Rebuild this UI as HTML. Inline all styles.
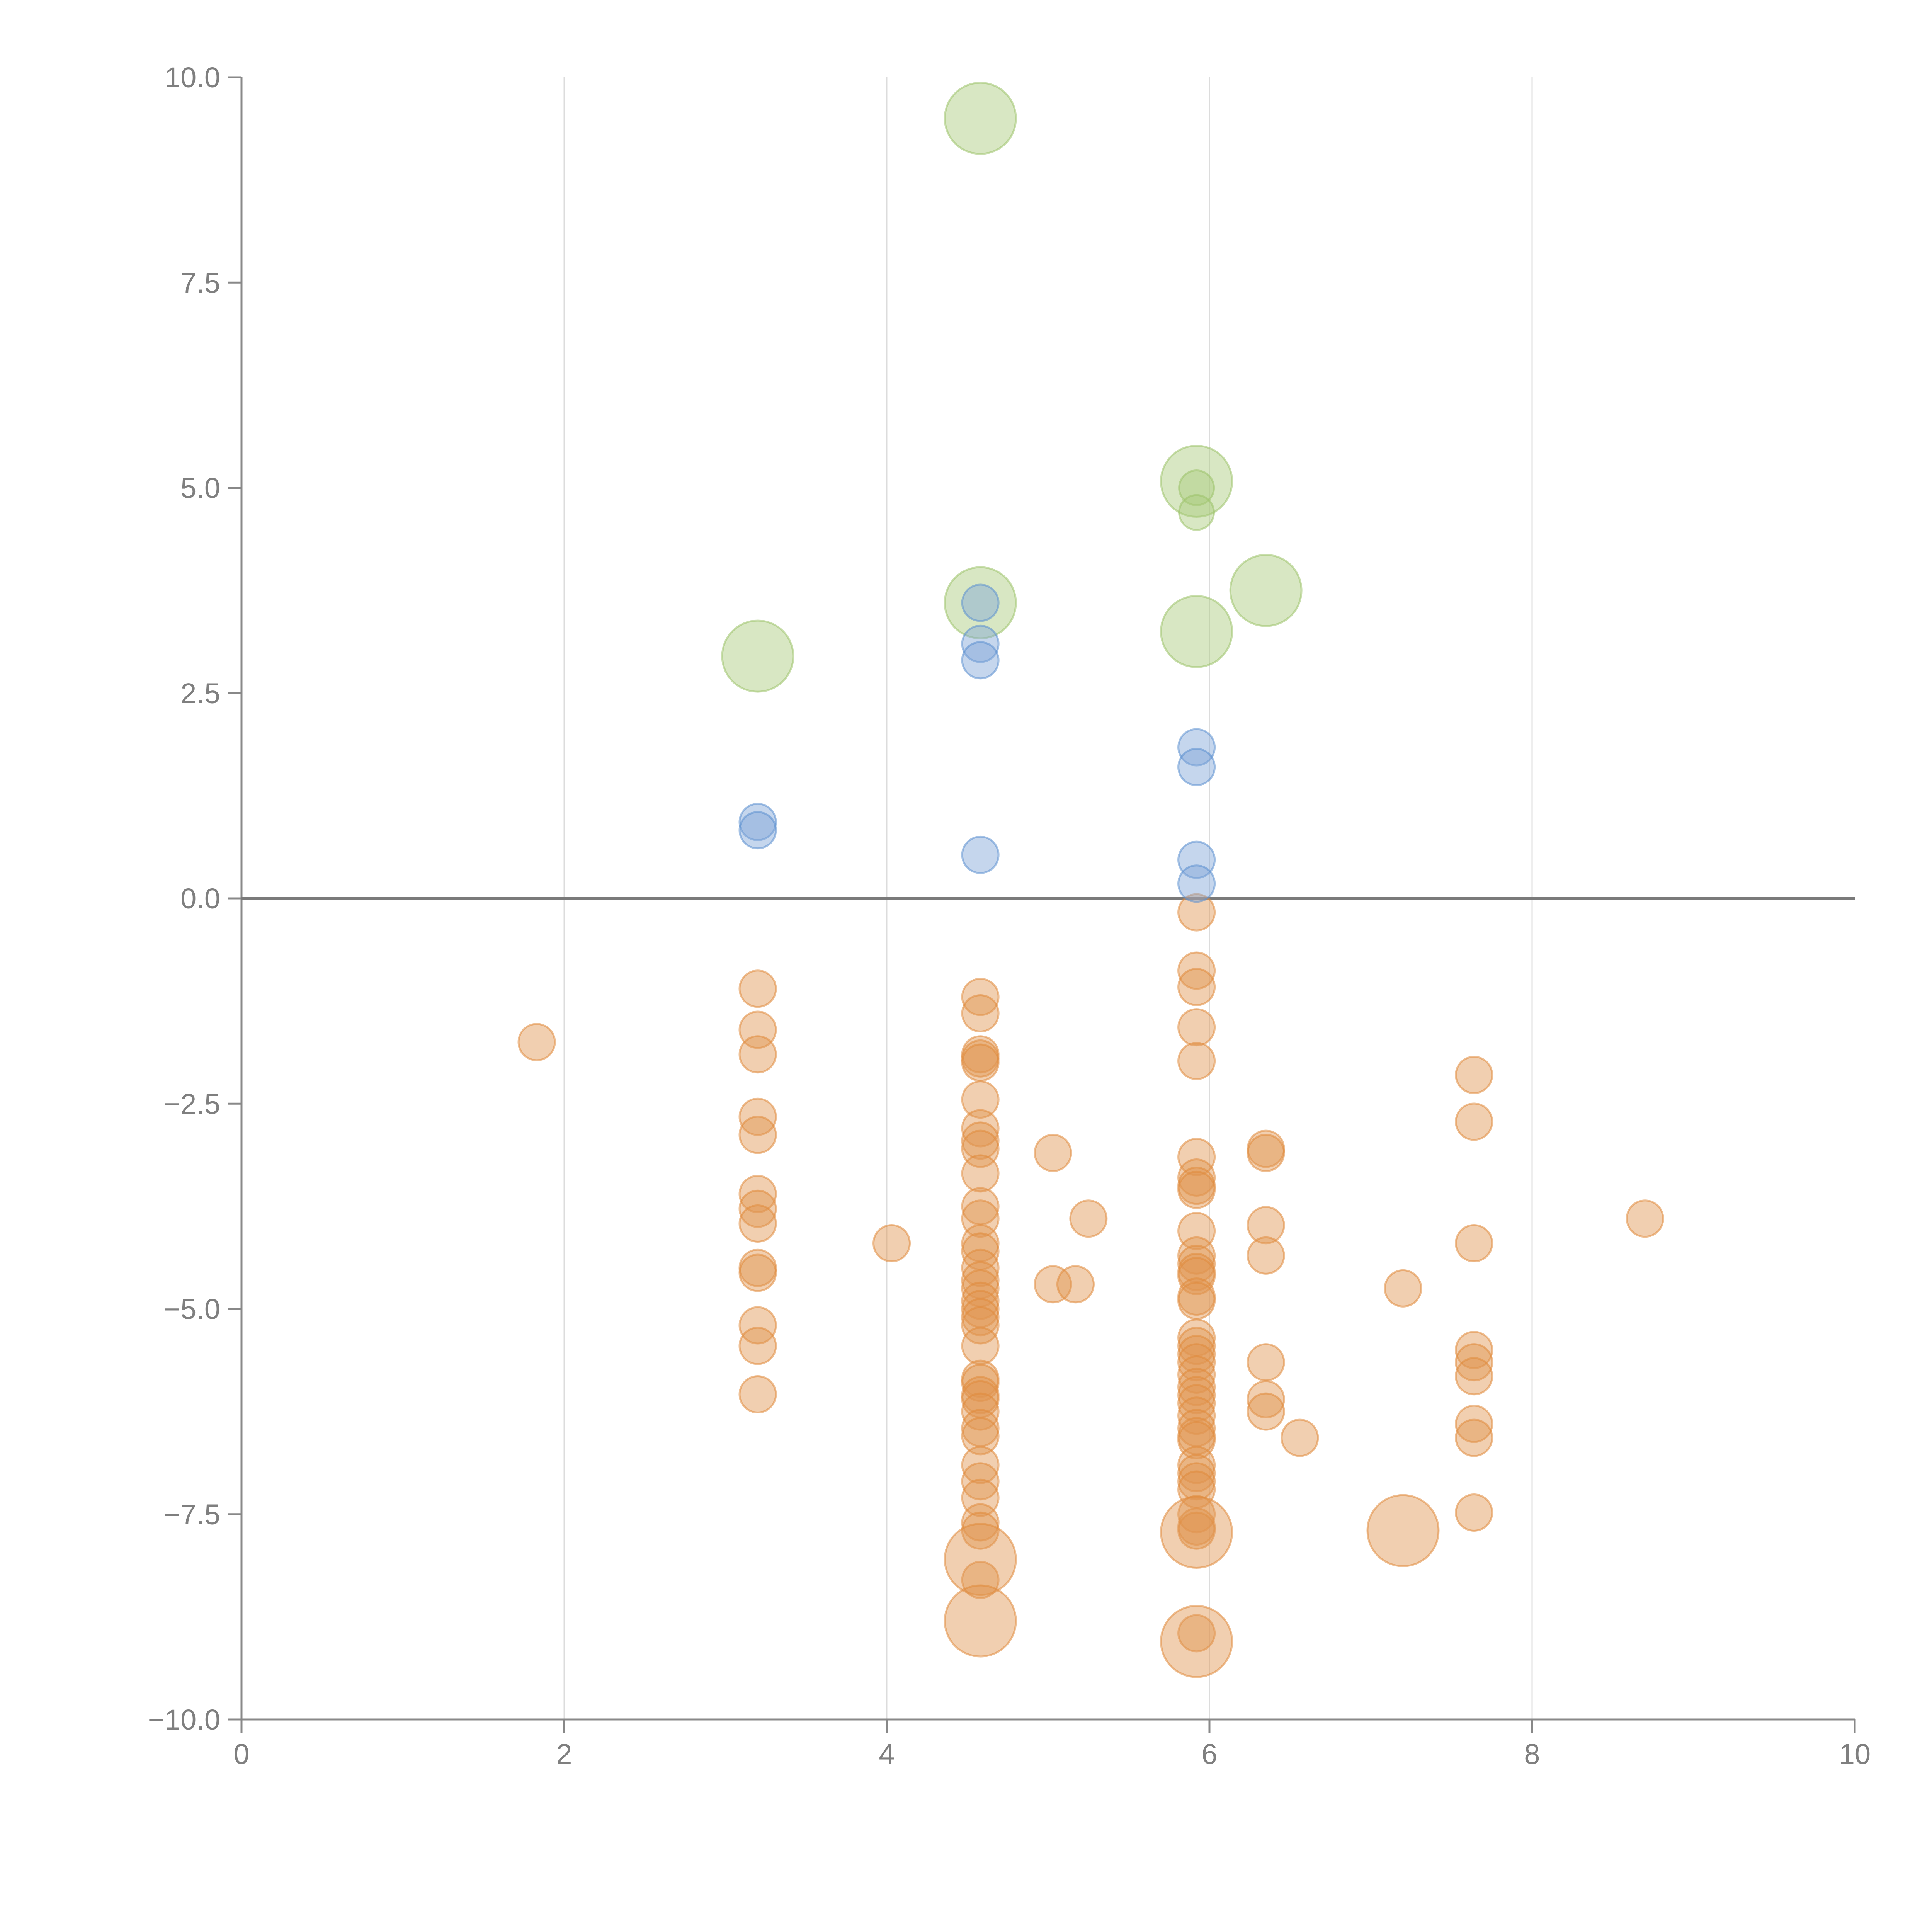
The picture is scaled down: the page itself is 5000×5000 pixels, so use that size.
<!DOCTYPE html>
<html><head><meta charset="utf-8"><style>
html,body{margin:0;padding:0;background:#fff;}
svg{display:block;}
text{font-family:"Liberation Sans",Arial,sans-serif;fill:#7f7f7f;}
</style></head><body>
<svg id="chart" width="5000" height="5000" viewBox="0 0 5000 5000" xmlns="http://www.w3.org/2000/svg">
<g id="grid"></g>
<g id="axes"></g>
<g id="marks"></g>
</svg>
<script>
const xTicks = [0, 2, 4, 6, 8, 10];
const yTicks = [-10, -7.5, -5, -2.5, 0, 2.5, 5, 7.5, 10];
const yTickLabels = ["\u221210.0","\u22127.5","\u22125.0","\u22122.5","0.0","2.5","5.0","7.5","10.0"];

const greenBigX = [4.58, 5.92, 6.35, 5.92, 4.58, 3.2];
const greenBigY = [9.5, 5.08, 3.75, 3.25, 3.6, 2.95];
const greenSmallX = [5.92, 5.92];
const greenSmallY = [5.0, 4.7];
const blueX = [4.58, 4.58, 4.58, 3.2, 3.2, 4.58, 5.92, 5.92, 5.92, 5.92];
const blueY = [3.6, 3.1, 2.9, 0.93, 0.83, 0.53, 1.84, 1.6, 0.47, 0.18];
const orangeX = [1.83,
 3.2,3.2,3.2,3.2,3.2,3.2,3.2,3.2,3.2,3.2,3.2,3.2,3.2,
 4.58,4.58,4.58,4.58,4.58,4.58,4.58,4.58,4.58,4.58,4.58,4.58,4.58,4.58,4.58,4.58,4.58,4.58,4.58,4.58,4.58,4.58,4.58,4.58,4.58,4.58,4.58,4.58,4.58,4.58,4.58,4.58,4.58,4.58,4.58,
 4.03,5.03,5.03,5.25,5.17,
 5.92,5.92,5.92,5.92,5.92,5.92,5.92,5.92,5.92,5.92,5.92,5.92,5.92,5.92,5.92,5.92,5.92,5.92,5.92,5.92,5.92,5.92,5.92,5.92,5.92,5.92,5.92,5.92,5.92,5.92,5.92,5.92,5.92,5.92,5.92,5.92,
 6.35,6.35,6.35,6.35,6.35,6.35,6.35,6.56,7.2,
 7.64,7.64,7.64,7.64,7.64,7.64,7.64,7.64,7.64,8.7];
const orangeY = [-1.75,
 -1.1,-1.6,-1.9,-2.66,-2.88,-3.6,-3.78,-3.96,-4.5,-4.56,-5.2,-5.45,-6.04,
 -1.2,-1.4,-1.9,-1.95,-2.0,-2.45,-2.8,-2.95,-3.05,-3.35,-3.75,-3.9,-4.2,-4.3,-4.5,-4.65,-4.75,-4.9,-5.0,-5.1,-5.2,-5.45,-5.85,-5.9,-6.05,-6.1,-6.25,-6.45,-6.55,-6.9,-7.1,-7.3,-7.6,-7.7,-8.3,
 -4.2,-3.1,-4.7,-3.9,-4.7,
 -0.17,-0.88,-1.08,-1.57,-1.98,-3.15,-3.4,-3.5,-3.55,-4.05,-4.35,-4.45,-4.55,-4.6,-4.85,-4.9,-5.35,-5.45,-5.55,-5.65,-5.8,-5.95,-6.05,-6.15,-6.3,-6.45,-6.55,-6.6,-6.9,-7.0,-7.1,-7.2,-7.5,-7.65,-7.7,-8.95,
 -3.05,-3.1,-3.98,-4.35,-5.65,-6.1,-6.25,-6.57,-4.75,
 -2.15,-2.72,-4.2,-5.5,-5.65,-5.82,-6.4,-6.57,-7.48,-3.9];
const orangeBigX = [4.58, 4.58, 5.92, 5.92, 7.2];
const orangeBigY = [-8.05, -8.8, -7.72, -9.05, -7.7];

const NS = "http://www.w3.org/2000/svg";
const X0 = 625, X1 = 4800, Y0 = 4450, Y1 = 200;
function xs(v){ return X0 + (v - 0) / 10 * (X1 - X0); }
function ys(v){ return Y0 - (v + 10) / 20 * (Y0 - Y1); }
function mk(tag, attrs, parent){
  const e = document.createElementNS(NS, tag);
  for (const k in attrs) e.setAttribute(k, attrs[k]);
  parent.appendChild(e);
  return e;
}
const grid = document.getElementById('grid');
const axes = document.getElementById('axes');
const marks = document.getElementById('marks');

xTicks.forEach(t => {
  if (t > 0 && t < 10) {
    const g = mk('line', {x1: xs(t), x2: xs(t), y1: Y1, y2: Y0, stroke: '#dcdcdc', 'stroke-width': 3}, grid);
    
    
  }
  const tk = mk('line', {x1: xs(t), x2: xs(t), y1: Y0, y2: Y0 + 36, stroke: '#888', 'stroke-width': 5}, axes);
  
  
  const lb = mk('text', {x: xs(t), y: Y0 + 115, 'text-anchor': 'middle', 'font-size': 74}, axes);
  lb.textContent = String(t);
  
  
});
yTicks.forEach((t, i) => {
  const tk = mk('line', {x1: X0 - 36, x2: X0, y1: ys(t), y2: ys(t), stroke: '#888', 'stroke-width': 5}, axes);
  
  
  const lb = mk('text', {x: X0 - 55, y: ys(t) + 26, 'text-anchor': 'end', 'font-size': 74}, axes);
  lb.textContent = yTickLabels[i];
  
  
});
const xa = mk('line', {x1: X0, x2: X1, y1: Y0, y2: Y0, stroke: '#888', 'stroke-width': 5}, axes);


const ya = mk('line', {x1: X0, x2: X0, y1: Y1, y2: Y0, stroke: '#888', 'stroke-width': 5}, axes);


const zl = mk('line', {x1: X0, x2: X1, y1: ys(0), y2: ys(0), stroke: '#7a7a7a', 'stroke-width': 7}, axes);



function series(xsArr, ysArr, r, fill, stroke, name){
  xsArr.forEach((x, i) => {
    const c = mk('circle', {cx: xs(x), cy: ys(ysArr[i]), r: r, fill: fill, 'fill-opacity': 0.45, stroke: stroke, 'stroke-opacity': 0.55, 'stroke-width': 5}, marks);
    
    
  });
}
series(orangeX, orangeY, 47, '#e0944f', '#e08a3c', 'orange-bubble');
series(orangeBigX, orangeBigY, 92, '#e0944f', '#e08a3c', 'orange-large-bubble');
series(greenBigX, greenBigY, 92, '#a9c97a', '#9cc26a', 'green-large-bubble');
series(greenSmallX, greenSmallY, 45, '#a9c97a', '#9cc26a', 'green-bubble');
series(blueX, blueY, 47, '#7ea3d6', '#5b8fd0', 'blue-bubble');
</script>
</body></html>
